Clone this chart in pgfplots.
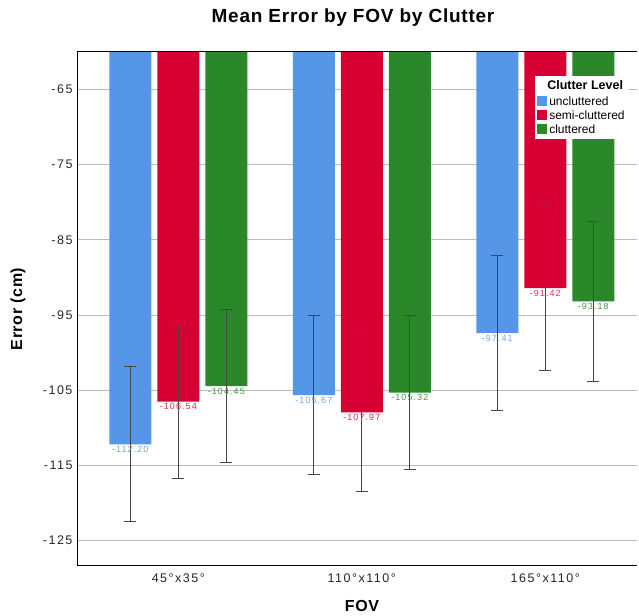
\documentclass[border=0pt]{standalone}
\usepackage{fontspec}
\setmainfont{Liberation Sans}
\newfontfamily\spaced[LetterSpace=12]{Liberation Sans}
\newfontfamily\slight[LetterSpace=4]{Liberation Sans}
\usepackage{pgfplots}
\pgfplotsset{compat=1.18}
\usepackage{pgfplotstable}

\definecolor{cblue}{RGB}{85,150,230}
\definecolor{cred}{RGB}{214,0,50}
\definecolor{cgreen}{RGB}{42,136,42}
\definecolor{lblue}{RGB}{115,165,228}
\definecolor{lred}{RGB}{220,45,80}
\definecolor{lgreen}{RGB}{70,150,70}
\definecolor{errc}{RGB}{70,70,70}

% x: 0 = 45x35, 1 = 110x110, 2 = 165x110
\pgfplotstableread{
x y err lab
0 -112.20 10.3 -112.20
1 -105.67 10.6 -105.67
2 -97.41 10.3 -97.41
}\uncl
\pgfplotstableread{
x y err lab
0 -106.54 10.2 -106.54
1 -107.97 10.5 -107.97
2 -91.42 11.0 -91.42
}\semi
\pgfplotstableread{
x y err lab
0 -104.45 10.2 -104.45
1 -105.32 10.25 -105.32
2 -93.18 10.6 -93.18
}\clut

\begin{document}
\begin{tikzpicture}
\path[use as bounding box] (0,0) rectangle (639pt,615pt);
\begin{axis}[
  at={(77pt,49pt)}, anchor=south west,
  scale only axis, width=560pt, height=514pt,
  ybar=6pt, bar width=42pt,
  xmin=-0.552, xmax=2.5,
  ymin=-128.4, ymax=-60,
  xtick={0,1,2},
  xticklabels={45°x35°,110°x110°,165°x110°},
  ytick={-125,-115,-105,-95,-85,-75,-65},
  yticklabels={-125,-115,-105,-95,-85,-75,-65},
  major tick length=0pt,
  ticklabel style={font=\spaced\fontsize{12.5}{14}\selectfont, text=black!85},
  yticklabel style={xshift=-1pt},
  xticklabel style={yshift=-4pt},
  ymajorgrids, grid style={gray!55, line width=0.8pt},
  axis line style={black, line width=1pt},
  axis x line*=bottom, axis y line*=left,
  clip=true,
  point meta=explicit symbolic,
  nodes near coords,
  every node near coord/.append style={anchor=north, yshift=0pt,
    font=\spaced\fontsize{9}{10}\selectfont, inner sep=1.5pt},
  error bars/error bar style={errc, line width=0.9pt},
  error bars/error mark options={rotate=90, errc, mark size=6pt, line width=0.9pt},
  legend style={at={(0.818,0.953)}, anchor=north west, draw=none, fill=white,
    font=\fontsize{12}{13}\selectfont, inner xsep=2pt, inner ysep=2pt,
    row sep=0pt, cells={anchor=west}},
  legend image code/.code={\fill[#1] (0pt,-4pt) rectangle (10pt,6pt);},
]
\addlegendimage{empty legend}
\addlegendentry{\hspace{-2pt}\raisebox{2pt}{\textbf{\fontsize{12.5}{14}\selectfont Clutter Level}}}
\addplot[fill=cblue, draw=none, every node near coord/.append style={text=lblue},
  error bars/.cd, y dir=both, y explicit]
  table[x=x, y=y, y error=err, meta=lab] {\uncl};
\addlegendentry{uncluttered}
\addplot[fill=cred, draw=none, every node near coord/.append style={text=lred},
  error bars/.cd, y dir=both, y explicit]
  table[x=x, y=y, y error=err, meta=lab] {\semi};
\addlegendentry{semi-cluttered}
\addplot[fill=cgreen, draw=none, every node near coord/.append style={text=lgreen},
  error bars/.cd, y dir=both, y explicit]
  table[x=x, y=y, y error=err, meta=lab] {\clut};
\addlegendentry{cluttered}
\draw[black, line width=1pt] (rel axis cs:0,1) -- (rel axis cs:1.01,1);
\end{axis}
\node[font=\slight\bfseries\fontsize{19}{22}\selectfont] at (353pt,597pt) {Mean Error by FOV by Clutter};
\node[font=\slight\bfseries\fontsize{16}{18}\selectfont] at (362pt,9pt) {FOV};
\node[font=\slight\bfseries\fontsize{16}{18}\selectfont, rotate=90] at (18pt,306pt) {Error (cm)};
\end{tikzpicture}
\end{document}
